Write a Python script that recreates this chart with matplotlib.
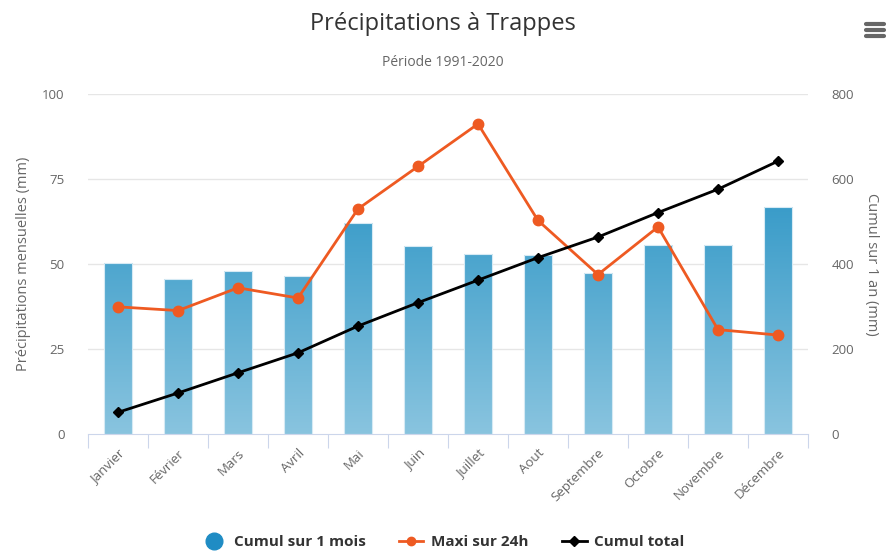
import matplotlib
matplotlib.use("Agg")
import matplotlib.pyplot as plt
import numpy as np
from matplotlib.patches import Rectangle
from matplotlib.lines import Line2D
from matplotlib.colors import LinearSegmentedColormap
from matplotlib import font_manager

months = ["Janvier", "Février", "Mars", "Avril", "Mai", "Juin", "Juillet",
          "Aout", "Septembre", "Octobre", "Novembre", "Décembre"]
cumul_mois = [50.2, 45.7, 47.9, 46.5, 62.0, 55.2, 52.9, 52.6, 47.3, 55.6, 55.6, 66.9]
maxi_24h = [37.4, 36.3, 43.0, 40.0, 66.2, 78.7, 91.2, 62.8, 46.9, 60.9, 30.7, 29.1]
cumul_total = [51, 96.5, 144, 191, 254, 309, 362, 415, 463.5, 521, 576, 642]
left_ticks = [0, 25, 50, 75, 100]
right_ticks = [0, 200, 400, 600, 800]

available = {f.name for f in font_manager.fontManager.ttflist}
base_font = "Open Sans" if "Open Sans" in available else "DejaVu Sans"
title_font = "Liberation Sans Narrow" if "Liberation Sans Narrow" in available else base_font
plt.rcParams['font.family'] = [base_font, 'DejaVu Sans']

fig = plt.figure(figsize=(8.86, 5.51), dpi=100)
ax = fig.add_axes([88/886, 117/551, 720/886, 340/551])
ax2 = ax.twinx()

x = np.arange(len(months))

# grid
for t in left_ticks[1:]:
    ax.axhline(t, color="#e6e6e6", lw=1, zorder=0)

# gradient bars
cmap = LinearSegmentedColormap.from_list("g", ["#89c4df", "#3a9cc9"])
grad = np.linspace(0, 1, 256).reshape(-1, 1)
bw = 0.47
for xi, v in zip(x, cumul_mois):
    rect = Rectangle((xi - bw/2, 0), bw, v, facecolor="none", edgecolor="none")
    ax.add_patch(rect)
    im = ax.imshow(grad, extent=[xi - bw/2, xi + bw/2, 0, 67], origin="lower",
                   cmap=cmap, aspect="auto", zorder=2, interpolation="bilinear")
    im.set_clip_path(rect)
    ax.add_patch(Rectangle((xi - bw/2, 0), bw, v, facecolor="none",
                           edgecolor="#d6eaf4", lw=0.8, zorder=3))
ax.set_xlim(-0.5, len(months) - 0.5)
ax.set_ylim(0, 100)
ax2.set_ylim(0, 800)

ax.plot(x, maxi_24h, color="#ee5a22", lw=2, marker="o", ms=7.5, zorder=4)
ax2.plot(x, cumul_total, color="#000000", lw=2, marker="D", ms=5.5, zorder=4)
ax.set_zorder(1)
ax2.set_zorder(2)
ax.patch.set_visible(False)

for a in (ax, ax2):
    for s in a.spines.values():
        s.set_visible(False)
ax.spines["bottom"].set_visible(True)
ax.spines["bottom"].set_color("#ccd6eb")

ax.set_yticks(left_ticks)
ax2.set_yticks(right_ticks)
ax.tick_params(axis="y", length=0, labelsize=9.5, labelcolor="#666666", pad=17)
ax2.tick_params(axis="y", length=0, labelsize=9.5, labelcolor="#666666", pad=17)

ax.set_xticks(np.arange(-0.5, len(months) + 0.5, 1.0), minor=False)
ax.set_xticklabels([])
ax.tick_params(axis="x", which="major", length=10, color="#ccd6eb", direction="out")
ax.set_xticks(x, minor=True)
ax.set_xticklabels(months, minor=True, rotation=45, ha="right", rotation_mode="anchor",
                   fontsize=9.5, color="#666666")
ax.tick_params(axis="x", which="minor", length=0, pad=9)

ax.set_ylabel("Précipitations mensuelles (mm)", fontsize=10.5, color="#666666", labelpad=8)
ax2.set_ylabel("Cumul sur 1 an (mm)", fontsize=10.5, color="#666666", rotation=270, labelpad=18)

fig.text(0.5, 1 - 24/551, "Précipitations à Trappes", ha="center", va="center",
         fontsize=17, color="#333333", family=[title_font, 'DejaVu Sans'])
fig.text(0.5, 1 - 63/551, "Période 1991-2020", ha="center", va="center",
         fontsize=10, color="#666666", family=[title_font, 'DejaVu Sans'])

# menu icon
for yy in (24, 30, 36):
    fig.add_artist(Line2D([866/886, 884/886], [1 - yy/551, 1 - yy/551], color="#666666",
                          lw=3, solid_capstyle="round"))

# legend
handles = [
    Line2D([], [], color="#1f8cc4", marker="o", ms=12, lw=0),
    Line2D([], [], color="#ee5a22", marker="o", ms=6, lw=2),
    Line2D([], [], color="#000000", marker="D", ms=5, lw=2),
]
labels = ["Cumul sur 1 mois", "Maxi sur 24h", "Cumul total"]
leg = fig.legend(handles, labels, loc="center", bbox_to_anchor=(0.5, 1 - 542/551),
                 ncol=3, frameon=False, handlelength=1.6, columnspacing=2.2,
                 handletextpad=0.5, prop={"weight": "bold", "size": 11})
for t in leg.get_texts():
    t.set_color("#333333")

fig.savefig("out.png", dpi=100)
